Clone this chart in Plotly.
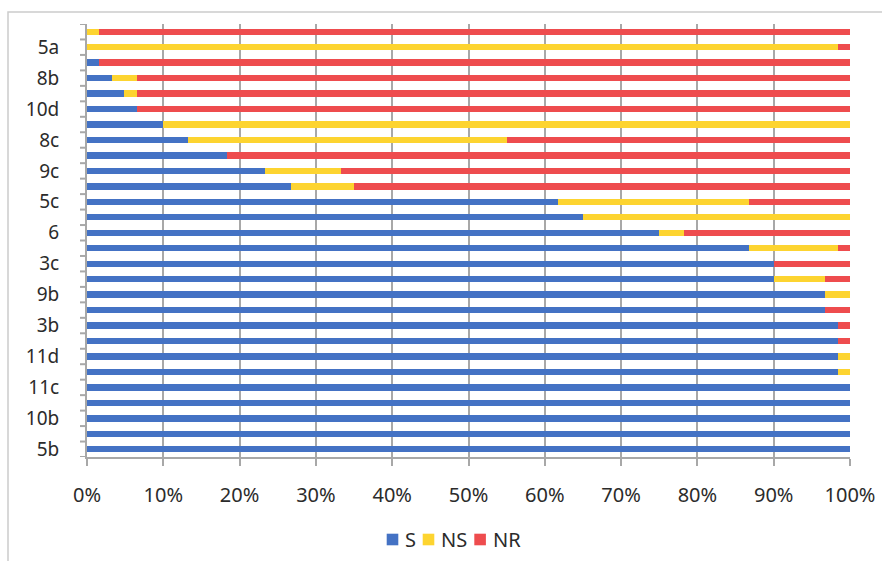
import plotly.graph_objects as go

# Isolate rows, top to bottom; only every second row carries a label
labels = ["", "5a", "", "8b", "", "10d", "", "8c", "", "9c", "", "5c", "", "6",
          "", "3c", "", "9b", "", "3b", "", "11d", "", "11c", "", "10b", "", "5b"]

# Percentage of each response class per row
s_pct = [0, 0, 1.6, 3.3, 4.9, 6.6, 10, 13.3, 18.3, 23.3, 26.7, 61.7, 65, 75,
         86.7, 90, 90, 96.7, 96.7, 98.4, 98.4, 98.4, 98.4, 100, 100, 100, 100, 100]
ns_pct = [1.6, 98.4, 0, 3.3, 1.6, 0, 90, 41.7, 0, 10, 8.3, 25, 35, 3.3,
          11.7, 0, 6.7, 3.3, 0, 0, 0, 1.6, 1.6, 0, 0, 0, 0, 0]
nr_pct = [98.4, 1.6, 98.4, 93.4, 93.5, 93.4, 0, 45, 81.7, 66.7, 65, 13.3, 0, 21.7,
          1.6, 10, 3.3, 0, 3.3, 1.6, 1.6, 0, 0, 0, 0, 0, 0, 0]

series = [("S", s_pct, "#4472C4"), ("NS", ns_pct, "#FDD430"), ("NR", nr_pct, "#EE4C4E")]

rows = list(range(len(labels)))
font_family = "Noto Sans"
text_color = "#2b2b2b"
grid_color = "#A8A8A8"

W, H = 882, 561
L, R, T, B = 87, 32, 24, 104
plot_w, plot_h = W - L - R, H - T - B


def px_x(px):
    return (px - L) / plot_w


def px_y(py):
    return (H - B - py) / plot_h


fig = go.Figure()
for name, vals, color in series:
    fig.add_trace(go.Bar(
        name=name, y=rows, x=vals, orientation="h",
        marker=dict(color=color, line=dict(width=0)),
        width=0.41, showlegend=False,
    ))

tick_rows = [i for i, t in enumerate(labels) if t]
tick_text = [labels[i] for i in tick_rows]

fig.update_layout(
    barmode="stack",
    width=W, height=H,
    margin=dict(l=L, r=R, t=T, b=B),
    plot_bgcolor="white", paper_bgcolor="white",
    font=dict(family=font_family, size=19, color=text_color),
    bargap=0,
)

fig.update_xaxes(
    range=[0, 100], tickvals=[0, 10, 20, 30, 40, 50, 60, 70, 80, 90, 100],
    ticktext=[f"{v}%" for v in range(0, 101, 10)],
    tickfont=dict(size=20),
    showgrid=True, gridcolor=grid_color, gridwidth=2,
    showline=True, linecolor=grid_color, linewidth=2,
    ticks="outside", ticklen=7, tickcolor=grid_color, tickwidth=2,
    ticklabelstandoff=12, zeroline=False, fixedrange=True, automargin=False,
)

fig.update_yaxes(
    range=[len(labels) - 0.5, -0.5],
    tickvals=tick_rows, ticktext=tick_text,
    showgrid=False, zeroline=False,
    showline=True, linecolor=grid_color, linewidth=2,
    ticks="", ticklabelstandoff=22, fixedrange=True, automargin=False,
)

# Boundary ticks between every row on the left axis
for k in range(len(labels) + 1):
    fig.add_shape(type="line", xref="paper", yref="y",
                  x0=px_x(80), x1=0, y0=k - 0.5, y1=k - 0.5,
                  line=dict(color=grid_color, width=2))

# Light frame around the whole chart
fig.add_shape(type="rect", xref="paper", yref="paper",
              x0=px_x(8), x1=px_x(W + 20), y0=px_y(12), y1=px_y(H + 20),
              line=dict(color="#CCCCCC", width=1.5), layer="below")

# Compact legend row under the axis: colour square followed by its name
legend_y = 539.5
square = 11.6
legend_x = {"S": 386.7, "NS": 422.7, "NR": 474.3}
for name, _, color in series:
    x0 = legend_x[name]
    fig.add_shape(type="rect", xref="paper", yref="paper",
                  x0=px_x(x0), x1=px_x(x0 + square),
                  y0=px_y(legend_y - square / 2), y1=px_y(legend_y + square / 2),
                  line=dict(width=0), fillcolor=color)
    fig.add_annotation(xref="paper", yref="paper",
                       x=px_x(x0 + square + 5), y=px_y(legend_y),
                       text=name, showarrow=False,
                       xanchor="left", yanchor="middle",
                       font=dict(size=20, color=text_color))

fig.write_html("out.html")
